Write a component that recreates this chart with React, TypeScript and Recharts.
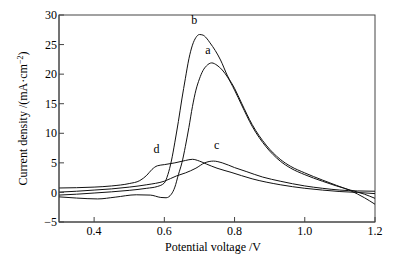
import React from 'react';
import * as R from 'recharts';
import { LineChart, Line, XAxis, YAxis, ReferenceDot, Label } from 'recharts';

const voltsA = [0.30, 0.35, 0.41, 0.46, 0.52, 0.56, 0.59, 0.605, 0.62, 0.63, 0.64, 0.65, 0.66, 0.67, 0.68, 0.69, 0.70, 0.71, 0.72, 0.735, 0.75, 0.765, 0.78, 0.80, 0.82, 0.85, 0.89, 0.93, 0.96, 1.00, 1.05, 1.09, 1.13, 1.17, 1.20];
const currentA = [-0.75, -0.95, -1.1, -0.8, -0.4, -0.45, -0.85, -0.9, -0.3, 0.9, 3.0, 5.0, 7.8, 11.0, 14.5, 17.3, 19.2, 20.6, 21.4, 21.9, 21.5, 20.7, 19.5, 17.3, 14.8, 11.2, 7.7, 5.3, 4.1, 3.0, 1.9, 1.1, 0.4, -0.3, -1.0];

const voltsB = [0.30, 0.35, 0.40, 0.45, 0.50, 0.55, 0.58, 0.60, 0.61, 0.62, 0.63, 0.64, 0.65, 0.66, 0.67, 0.68, 0.69, 0.70, 0.71, 0.72, 0.73, 0.745, 0.76, 0.78, 0.80, 0.82, 0.85, 0.89, 0.93, 0.96, 1.00, 1.05, 1.09, 1.13, 1.17, 1.20];
const currentB = [-0.45, -0.3, -0.1, 0.1, 0.35, 0.7, 1.0, 1.6, 3.0, 5.3, 8.5, 12.0, 15.8, 19.3, 22.6, 24.9, 26.2, 26.7, 26.6, 26.1, 25.3, 24.0, 22.4, 19.7, 17.6, 15.1, 11.5, 8.0, 5.6, 4.4, 3.3, 2.1, 1.2, 0.3, -0.9, -2.0];

const voltsC = [0.30, 0.35, 0.40, 0.45, 0.50, 0.55, 0.60, 0.635, 0.66, 0.69, 0.715, 0.74, 0.765, 0.80, 0.835, 0.88, 0.93, 1.00, 1.05, 1.10, 1.15, 1.20];
const currentC = [0.05, 0.2, 0.4, 0.6, 0.9, 1.3, 1.9, 2.8, 3.3, 4.1, 5.0, 5.3, 5.0, 4.2, 3.5, 2.6, 1.9, 1.1, 0.7, 0.4, 0.25, 0.2];

const voltsD = [0.30, 0.35, 0.40, 0.45, 0.50, 0.53, 0.55, 0.565, 0.58, 0.60, 0.63, 0.66, 0.68, 0.70, 0.72, 0.75, 0.79, 0.85, 0.93, 1.00, 1.05, 1.10, 1.15, 1.20];
const currentD = [0.75, 0.8, 0.9, 1.1, 1.5, 2.0, 2.9, 3.9, 4.5, 4.7, 5.0, 5.4, 5.6, 5.3, 4.8, 4.1, 3.4, 2.3, 1.3, 0.7, 0.4, 0.15, 0.0, -0.2];

const xTicks = [0.4, 0.6, 0.8, 1.0, 1.2];
const xTickLabels = ['0.4', '0.6', '0.8', '1.0', '1.2'];
const yTicks = [-5, 0, 5, 10, 15, 20, 25, 30];
const yTickLabels = ['\u22125', '0', '5', '10', '15', '20', '25', '30'];
const xDomain = [0.3, 1.2];
const yDomain = [-5, 30];

const curveNames = ['a', 'b', 'c', 'd'];
const nameVolts = [0.724, 0.685, 0.749, 0.578];
const nameCurrents = [24.1, 29.2, 8.1, 7.3];

const FONT = 'Liberation Serif, Times New Roman, serif';
const AXIS = '#444';
const INK = '#111';

const zip = (vs: number[], is: number[]) => vs.map((v, k) => ({ v, i: is[k] }));
const series = [zip(voltsA, currentA), zip(voltsB, currentB), zip(voltsC, currentC), zip(voltsD, currentD)];

// Plot-box outline (plot area hook)
const PlotFrame = () => {
  const hook = (R as any).usePlotArea || (R as any).useOffset;
  const a = hook ? hook() : null;
  if (!a) return null;
  const x = a.x != null ? a.x : a.left;
  const y = a.y != null ? a.y : a.top;
  if (x == null || y == null || !a.width || !a.height) return null;
  return <rect x={x} y={y} width={a.width} height={a.height} fill="none" stroke={AXIS} strokeWidth={1} />;
};

const YTick = (props: any) => {
  const { x, y, payload } = props;
  const k = yTicks.indexOf(payload.value);
  return (
    <g>
      <line x1={x + 2} x2={x + 7} y1={y} y2={y} stroke={AXIS} />
      <text x={x} y={y} dy="0.35em" textAnchor="end" fontFamily={FONT} fontSize={12} fill="#000">
        {yTickLabels[k]}
      </text>
    </g>
  );
};

const XTick = (props: any) => {
  const { x, y, payload } = props;
  const k = xTicks.indexOf(payload.value);
  return (
    <g>
      <line x1={x} x2={x} y1={y - 4} y2={y - 9} stroke={AXIS} />
      <text x={x} y={y} dy="0.75em" textAnchor="middle" fontFamily={FONT} fontSize={12} fill="#000">
        {xTickLabels[k]}
      </text>
    </g>
  );
};

const YLabel = (props: any) => {
  const vb = props.viewBox || { x: 19, y: 15, width: 40, height: 207 };
  const cx = vb.x + 8;
  const cy = vb.y + vb.height / 2;
  return (
    <text transform={`rotate(-90 ${cx} ${cy})`} x={cx} y={cy} textAnchor="middle" fontFamily={FONT} fontSize={12} fill="#000">
      Current density /(mA·cm<tspan dy={-4} fontSize={8}>{'\u22122'}</tspan><tspan dy={4}>)</tspan>
    </text>
  );
};

const XLabel = (props: any) => {
  const vb = props.viewBox || { x: 59, y: 222, width: 316, height: 30 };
  return (
    <text x={vb.x + vb.width / 2 - 4} y={vb.y + 29} textAnchor="middle" fontFamily={FONT} fontSize={12} fill="#000">
      Potential voltage /V
    </text>
  );
};

export default function App() {
  return (
    <div style={{ position: 'absolute', left: 0, top: 0, width: 398, height: 260, background: '#fff' }}>
      <LineChart width={398} height={260} margin={{ top: 15, right: 23, left: 19, bottom: 8 }}>
        <XAxis
          type="number"
          dataKey="v"
          domain={xDomain}
          ticks={xTicks}
          height={30}
          stroke={AXIS}
          tickLine={false}
          tickSize={0}
          tickMargin={4}
          tick={<XTick />}
        >
          <Label content={<XLabel />} />
        </XAxis>
        <YAxis
          type="number"
          domain={yDomain}
          ticks={yTicks}
          width={40}
          stroke={AXIS}
          tickLine={false}
          tickSize={0}
          tickMargin={2}
          tick={<YTick />}
        >
          <Label content={<YLabel />} />
        </YAxis>
        <PlotFrame />
        {series.map((d, k) => (
          <Line
            key={curveNames[k]}
            data={d}
            dataKey="i"
            type="monotone"
            stroke={INK}
            strokeWidth={1}
            dot={false}
            activeDot={false}
            isAnimationActive={false}
          />
        ))}
        {curveNames.map((n, k) => (
          <ReferenceDot
            key={'lbl' + n}
            x={nameVolts[k]}
            y={nameCurrents[k]}
            r={0}
            shape={(p: any) => (
              <text x={p.cx} y={p.cy} dy="0.35em" textAnchor="middle" fontFamily={FONT} fontSize={12} fill="#000">
                {n}
              </text>
            )}
          />
        ))}
      </LineChart>
    </div>
  );
}
